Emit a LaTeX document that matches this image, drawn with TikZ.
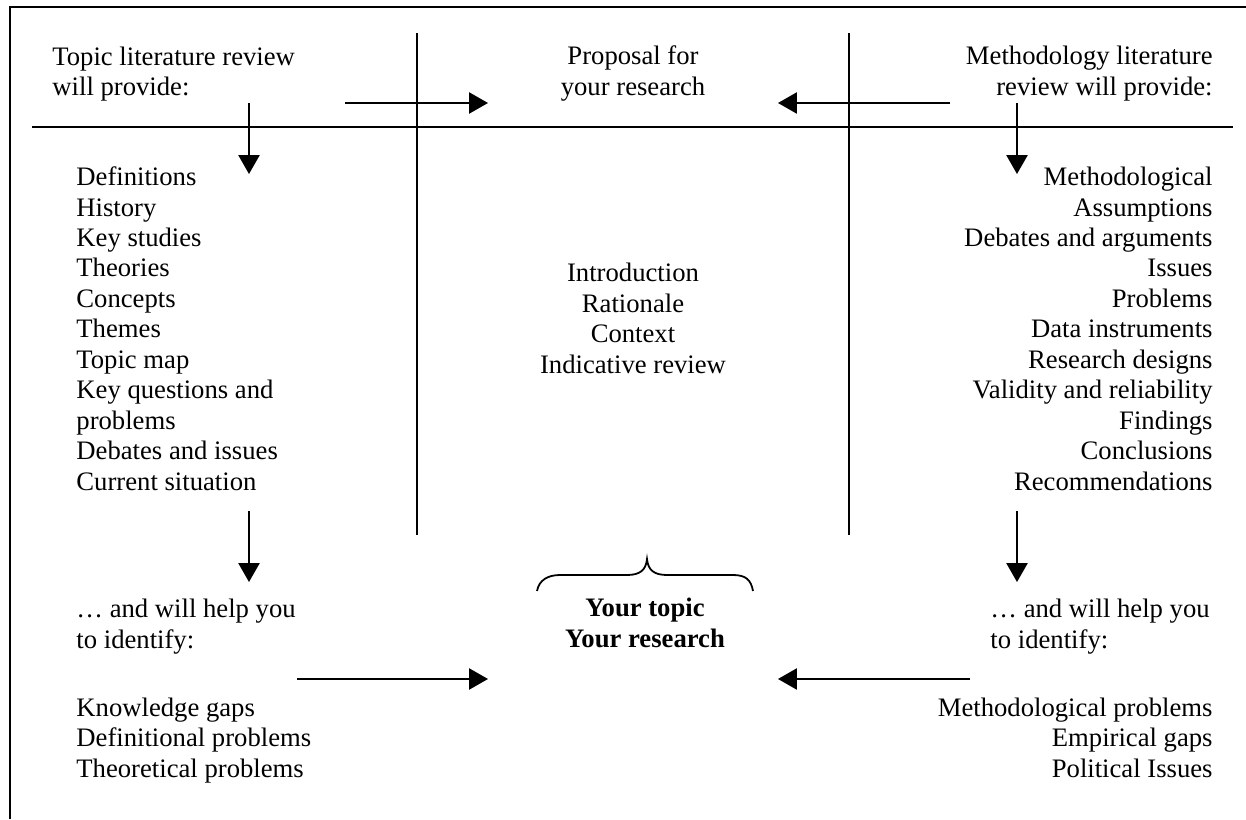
\documentclass[tikz,border=0pt]{standalone}
\usepackage{fontspec}
\setmainfont{Liberation Serif}
\usetikzlibrary{arrows.meta}

\begin{document}
\begin{tikzpicture}[x=0.45pt,y=-0.45pt,
  txt/.style={inner sep=0pt,font=\fontsize{12}{13.7}\selectfont},
  lft/.style={txt,align=left,anchor=base west},
  rgt/.style={txt,align=right,anchor=base east},
  ctr/.style={txt,align=center,anchor=base},
  rule/.style={line width=0.8pt},
  arr/.style={rule,-{Triangle[length=8.5pt,width=9.5pt]}}]
  \useasboundingbox (0,0) rectangle (1246,819);

  % frame and dividing lines
  \draw[rule] (10,819) -- (10,7) -- (1246,7);
  \draw[rule] (32,127) -- (1233,127);
  \draw[rule] (417,33) -- (417,535) (849,33) -- (849,535);

  % headings (placed at the baseline of their last line)
  \node[lft] (topic) at (52,96) {Topic literature review\\will provide:};
  \node[ctr] (prop) at (633,95) {Proposal for\\your research};
  \node[rgt] (meth) at (1213,95) {Methodology literature\\review will provide:};

  % lists
  \node[lft] (tlist) at (76,490) {Definitions\\History\\Key studies\\Theories\\Concepts\\Themes\\Topic map\\Key questions and\\problems\\Debates and issues\\Current situation};
  \node[ctr] (plist) at (633,373) {Introduction\\Rationale\\Context\\Indicative review};
  \node[rgt] (mlist) at (1213,490) {Methodological\\Assumptions\\Debates and arguments\\Issues\\Problems\\Data instruments\\Research designs\\Validity and reliability\\Findings\\Conclusions\\Recommendations};

  \node[lft] (thelp) at (76,648) {… and will help you\\to identify:};
  \node[lft] (mhelp) at (990,648) {… and will help you\\to identify:};
  \node[ctr,font=\fontsize{12}{13.7}\selectfont\bfseries] (yours) at (645,647) {Your topic\\Your research};

  \node[lft] (tgaps) at (76,777) {Knowledge gaps\\Definitional problems\\Theoretical problems};
  \node[rgt] (mgaps) at (1213,777) {Methodological problems\\Empirical gaps\\Political Issues};

  % arrow ends
  \coordinate (t1) at (345,103);  \coordinate (t2) at (488,103);
  \coordinate (m1) at (950,103);  \coordinate (m2) at (778,103);
  \coordinate (td1) at (249,103); \coordinate (td2) at (249,174);
  \coordinate (md1) at (1017,103); \coordinate (md2) at (1017,174);
  \coordinate (tm1) at (249,511); \coordinate (tm2) at (249,582);
  \coordinate (mm1) at (1017,511); \coordinate (mm2) at (1017,582);
  \coordinate (b1) at (297,679);  \coordinate (b2) at (488,679);
  \coordinate (b3) at (970,679);  \coordinate (b4) at (778,679);

  \draw[arr] (t1) -- (t2);
  \draw[arr] (m1) -- (m2);
  \draw[arr] (td1) -- (td2);
  \draw[arr] (md1) -- (md2);
  \draw[arr] (tm1) -- (tm2);
  \draw[arr] (mm1) -- (mm2);
  \draw[arr] (b1) -- (b2);
  \draw[arr] (b3) -- (b4);

  % brace over the result
  \draw[rule] (537,591) .. controls (539,580) and (548,575) .. (560,575) -- (627,575)
    .. controls (640,575) and (646,570) .. (647,559)
    .. controls (648,570) and (654,575) .. (667,575) -- (733,575)
    .. controls (746,575) and (751,580) .. (753,591);
\end{tikzpicture}
\end{document}
